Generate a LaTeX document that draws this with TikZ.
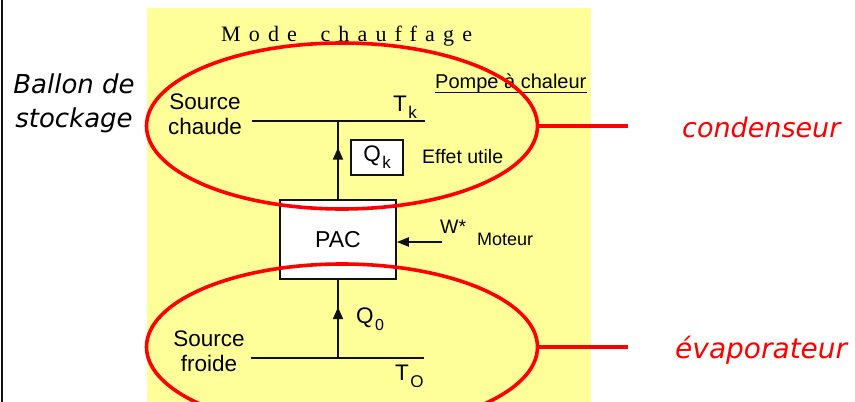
\documentclass[tikz,border=0pt]{standalone}
\usepackage{fontspec}
\setmainfont{Liberation Sans}
\newfontfamily\modefont{Liberation Serif}[LetterSpace=37]
\newfontfamily\labelfont{DejaVu Sans}
\usepackage{xcolor}
\definecolor{cBack}{HTML}{FFFF99}
\definecolor{cRed}{HTML}{FF0000}
\definecolor{cLine}{HTML}{111111}
\usetikzlibrary{positioning,arrows.meta,shapes.geometric,decorations.markings}
\newcommand{\lowidx}[2][17]{\kern1.5pt\raisebox{-7pt}{\fontsize{#1}{#1}\selectfont #2}}
\tikzset{
  node-box/.style={draw=cLine,line width=1.5pt,fill=white,inner sep=0pt},
  node-zone/.style={ellipse,draw=cRed,line width=3.6pt,
    minimum width=391pt,minimum height=166pt,inner sep=0pt},
  node-txt/.style={anchor=base west,inner sep=0pt,font=\fontsize{22.5}{25}\selectfont},
  node-small/.style={anchor=base west,inner sep=0pt,font=\fontsize{19.5}{19.5}\selectfont},
  node-red/.style={anchor=base west,inner sep=0pt,text=cRed,
    font=\labelfont\itshape\fontsize{27}{27}\selectfont},
  line-plain/.style={draw=cLine,line width=1.8pt},
  line-flow/.style={line-plain,postaction={decorate},decoration={markings,
    mark=at position #1 with {\arrow{Triangle[length=12pt,width=10pt]}}}},
  arrow/.style={-{Triangle[length=12pt,width=9pt]},line-plain},
  link-red/.style={draw=cRed,line width=3.4pt},
}
\begin{document}
\begin{tikzpicture}[x=1pt,y=-1pt]
  \useasboundingbox (0,0) rectangle (855,402);
  % fond
  \fill[cBack] (147,8) rectangle (591,402);
  \draw[line-plain,line width=2pt] (2,0) -- (2,402);
  \node[anchor=base west,inner sep=0pt] (mode) at (221,41)
    {\modefont\fontsize{22}{22}\selectfont Mode\ \kern10pt chauffage};
  % textes gauche
  \node[anchor=base,inner sep=0pt,font=\labelfont\itshape\fontsize{26}{26}\selectfont]
    (ballon) at (74,93) {Ballon de};
  \node[anchor=base,inner sep=0pt,font=\labelfont\itshape\fontsize{26}{26}\selectfont]
    (stock) at (74,127) {stockage};
  % source chaude
  \node[node-txt,anchor=center,align=center] (hot-src) at (205,114) {Source\\chaude};
  \coordinate (hot-w) at (252,121);
  \coordinate (hot-e) at (425,121);
  \draw[line-plain] (hot-w) -- (hot-e);
  \node[node-txt] (tk) at (393,111) {T\lowidx{k}};
  \node[node-small,font=\fontsize{20}{20}\selectfont] (pompe) at (435,88) {Pompe à chaleur};
  \draw[line-plain,line width=1.5pt] (pompe.south west) -- (pompe.south east);
  % PAC
  \node[node-box,minimum width=116pt,minimum height=79pt,
    font=\fontsize{23}{23}\selectfont] (pac) at (338,239.5) {PAC};
  \node[node-box,minimum width=52pt,minimum height=35pt,
    font=\fontsize{22.5}{22.5}\selectfont] (qk) at (377,157.5) {Q\lowidx{k}};
  \node[node-small] (effet) at (422,163) {Effet utile};
  \draw[line-flow=0.66] (pac.north) -- (pac.north |- hot-w);
  \coordinate (motor-in) at (442,242);
  \draw[arrow] (motor-in) -- (pac.east |- motor-in);
  \node[node-small] (work) at (440,233) {W*};
  \node[node-small,font=\fontsize{18}{18}\selectfont] (moteur) at (477,245) {Moteur};
  % source froide
  \node[node-txt,anchor=center,align=center] (cold-src) at (209,351) {Source\\froide};
  \coordinate (cold-w) at (251,358);
  \coordinate (cold-e) at (424,358);
  \draw[line-plain] (cold-w) -- (cold-e);
  \draw[line-flow=0.65] (pac.south |- cold-w) -- (pac.south);
  \node[node-txt] (q0) at (356,323) {Q\lowidx[16]{0}};
  \node[node-txt] (to) at (395,380) {T\lowidx{O}};
  % echangeurs
  \node[node-zone] (cond) at (342,126) {};
  \node[node-zone] (evap) at (342,347) {};
  \coordinate (cond-end) at (628,126);
  \coordinate (evap-end) at (628,347);
  \draw[link-red] (cond.east) -- (cond-end);
  \draw[link-red] (evap.east) -- (evap-end);
  \node[node-red] (cond-txt) at (682,137) {condenseur};
  \node[node-red,font=\labelfont\itshape\fontsize{28}{28}\selectfont] (evap-txt)
    at (675,358) {évaporateur};
\end{tikzpicture}
\end{document}
